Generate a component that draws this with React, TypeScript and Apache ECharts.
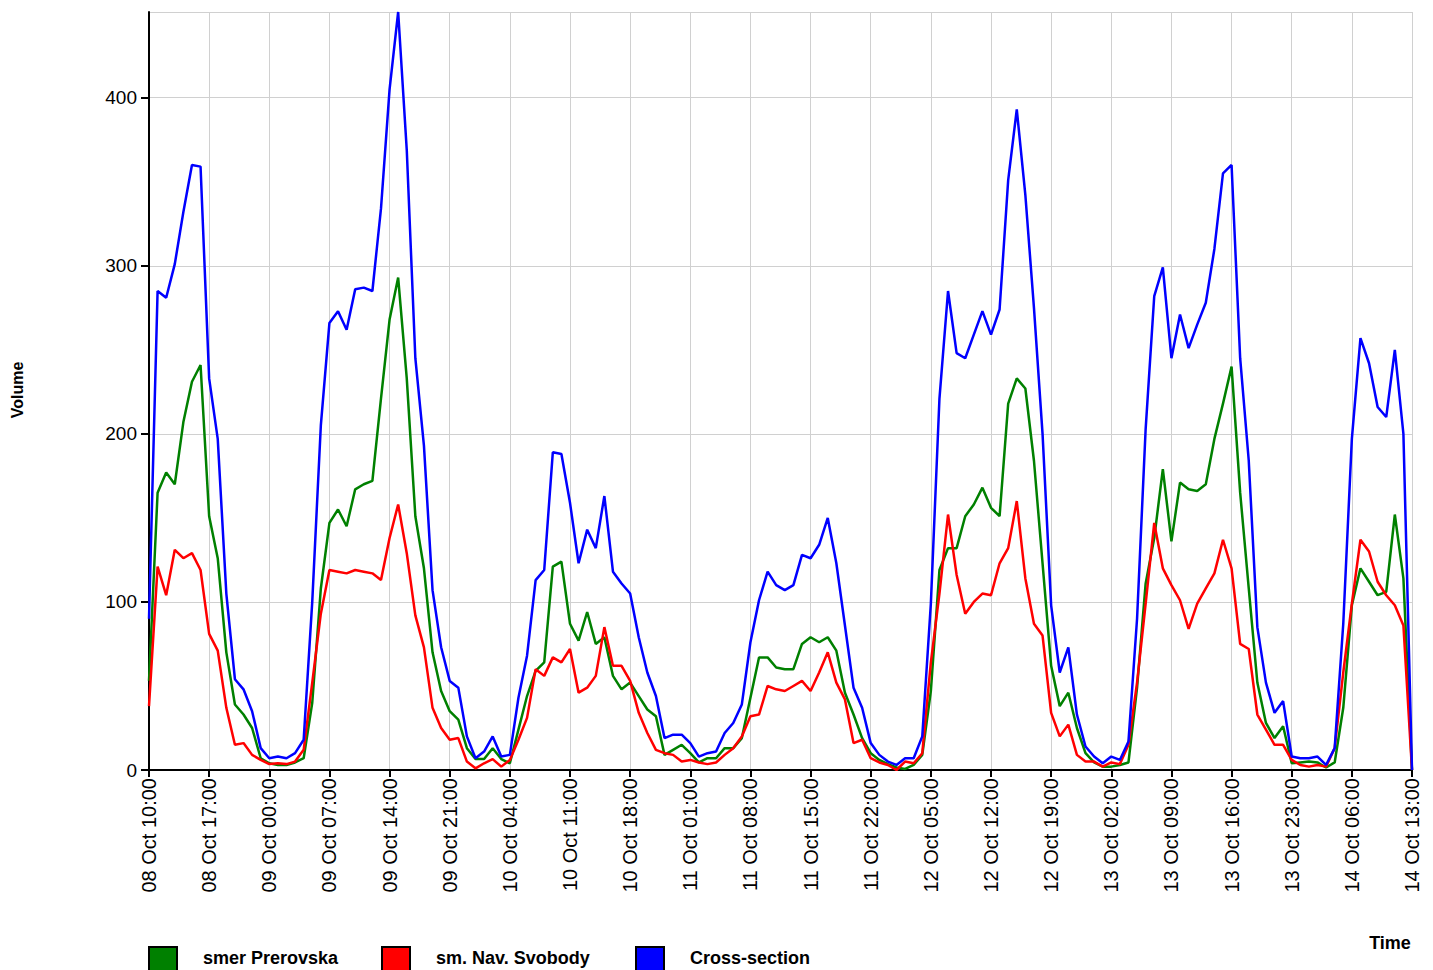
import React, { useEffect, useRef } from 'react';
import * as echarts from 'echarts';

// hourly samples, 08 Oct 10:00 .. 14 Oct 13:00
const startHour = 10;
const startDay = 8;
const monthName = 'Oct';

const smerPrerovska = [
  53, 165, 177, 170, 207, 231, 241, 151, 126, 70,
  39, 33, 25, 7, 4, 3, 3, 4.5, 7, 40,
  108, 147, 155, 145, 167, 170, 172, 221, 268, 293,
  233, 151, 120, 70, 47, 35, 30, 13, 6.5, 6.5,
  13, 6.5, 4, 24, 44, 59, 64, 121, 124, 87,
  77, 94, 75, 79, 56, 48, 52, 44, 36, 32,
  9, 12, 15, 10, 4.5, 7, 7, 13, 13, 19,
  43, 67, 67, 61, 60, 60, 75, 79, 76, 79,
  71, 46, 33, 19, 10, 6, 3.5, 1.5, 0.6, 3,
  9, 47, 119, 132, 132, 151, 158, 168, 156, 151,
  218, 233, 227, 184, 123, 62, 38, 46, 25, 10,
  4.5, 2, 2, 3, 4.5, 49, 111, 138, 179, 136,
  171, 167, 166, 170, 197, 218, 240, 165, 108, 52,
  28, 19, 26, 4, 4.5, 5, 4.5, 1.5, 4.5, 37,
  98, 120, 112, 104, 106, 152, 114, 0,
];

const smNavSvobody = [
  38, 121, 104, 131, 126, 129, 119, 81, 71, 37,
  15, 16, 9, 6, 3.5, 4, 3.5, 5, 12, 52,
  93, 119, 118, 117, 119, 118, 117, 113, 138, 158,
  129, 92, 73, 37, 25, 18, 19, 5, 1, 4,
  6.5, 2, 6, 18, 31, 60, 56, 67, 64, 72,
  46, 49, 56, 85, 62, 62, 53, 34, 22, 12,
  10, 9, 5, 6, 4.5, 3.5, 4.5, 9, 13, 20,
  32, 33, 50, 48, 47, 50, 53, 47, 58, 70,
  52, 42, 16, 18, 7, 4.5, 3, 0, 5, 4,
  10, 64, 105, 152, 116, 93, 100, 105, 104, 123,
  132, 160, 114, 87, 80, 34, 20, 27, 9, 5,
  5, 2, 4.5, 3.5, 15, 52, 99, 147, 120, 110,
  101, 84, 99, 108, 117, 137, 120, 75, 72, 33,
  24, 15, 15, 6, 3, 2, 3, 2, 13, 58,
  99, 137, 130, 112, 104, 98, 86, 0,
];

const crossSection = [
  90, 285, 281, 301, 332, 360, 359, 233, 197, 105,
  54, 48, 35, 13, 7, 8, 7, 10, 18, 100,
  205, 266, 273, 262, 286, 287, 285, 334, 405, 451,
  369, 245, 193, 107, 73, 53, 49, 20, 7, 11,
  20, 8, 9, 43, 68, 113, 119, 189, 188, 159,
  123, 143, 132, 163, 118, 111, 105, 79, 58, 44,
  19, 21, 21, 16, 8, 10, 11, 22, 28, 39,
  76, 101, 118, 110, 107, 110, 128, 126, 134, 150,
  123, 86, 49, 37, 16, 9, 5, 3, 7, 7,
  20, 99, 221, 285, 248, 245, 259, 273, 259, 274,
  351, 393, 342, 275, 200, 98, 58, 73, 33, 14,
  8, 4, 8, 6, 17, 90, 203, 282, 299, 245,
  271, 251, 265, 278, 310, 355, 360, 245, 184, 85,
  52, 34, 41, 8, 7, 7, 8, 3, 13, 87,
  197, 257, 242, 216, 210, 250, 200, 0,
];

const seriesNames = ['smer Prerovska', 'sm. Nav. Svobody', 'Cross-section'];
const seriesColors = ['#008000', '#ff0000', '#0000ff'];

const pad = (n: number) => (n < 10 ? '0' + n : '' + n);
const timeLabels = crossSection.map((_, i) => {
  const t = startHour + i;
  return pad(startDay + Math.floor(t / 24)) + ' ' + monthName + ' ' + pad(t % 24) + ':00';
});

const FONT = 'Liberation Sans, Arial, sans-serif';

const App: React.FC = () => {
  const chartRef = useRef<HTMLDivElement>(null);

  useEffect(() => {
    document.body.style.margin = '0';
    document.body.style.overflow = 'hidden';
    const myChart = echarts.init(chartRef.current, null, { renderer: 'svg' });
    const data = [smerPrerovska, smNavSvobody, crossSection];
    const legendX = [149, 382, 636];

    const option = {
      animation: false,
      grid: { left: 149, right: 21, top: 12, bottom: 200 },
      xAxis: {
        type: 'category',
        data: timeLabels,
        boundaryGap: false,
        axisLine: { lineStyle: { color: '#000', width: 2 } },
        axisTick: { interval: 6, length: 7, lineStyle: { color: '#000', width: 2 } },
        axisLabel: { interval: 6, rotate: 90, color: '#000', fontSize: 20, fontFamily: FONT, margin: 8 },
        splitLine: { show: true, interval: 6, lineStyle: { color: '#d0d0d0', width: 1 } },
      },
      yAxis: {
        type: 'value',
        min: 0,
        max: 451,
        interval: 100,
        axisLine: { show: true, lineStyle: { color: '#000', width: 2 } },
        axisTick: { show: true, length: 8, lineStyle: { color: '#000', width: 2 } },
        axisLabel: { color: '#000', fontSize: 19, fontFamily: FONT, showMaxLabel: false, margin: 12 },
        splitLine: { lineStyle: { color: '#d0d0d0', width: 1 } },
      },
      series: data.map((d, i) => ({
        name: seriesNames[i],
        type: 'line',
        data: d,
        symbol: 'none',
        lineStyle: { color: seriesColors[i], width: 2.5 },
        itemStyle: { color: seriesColors[i] },
      })),
      graphic: [
        {
          type: 'text', x: 17, y: 390, rotation: Math.PI / 2,
          style: { text: 'Volume', font: 'bold 16px ' + FONT, fill: '#000', align: 'center', verticalAlign: 'middle' },
        },
        {
          type: 'text', x: 1390, y: 943,
          style: { text: 'Time', font: 'bold 18px ' + FONT, fill: '#000', align: 'center', verticalAlign: 'middle' },
        },
        ...seriesNames.flatMap((name, i) => [
          {
            type: 'rect',
            shape: { x: legendX[i], y: 947, width: 28, height: 24 },
            style: { fill: seriesColors[i], stroke: '#000', lineWidth: 2 },
          },
          {
            type: 'text', x: legendX[i] + 54, y: 958,
            style: { text: name, font: 'bold 18px ' + FONT, fill: '#000', verticalAlign: 'middle' },
          },
        ]),
      ],
    };

    myChart.setOption(option);
    return () => {
      myChart.dispose();
    };
  }, []);

  return <div ref={chartRef} style={{ width: '1433px', height: '970px' }}></div>;
};

export default App;
